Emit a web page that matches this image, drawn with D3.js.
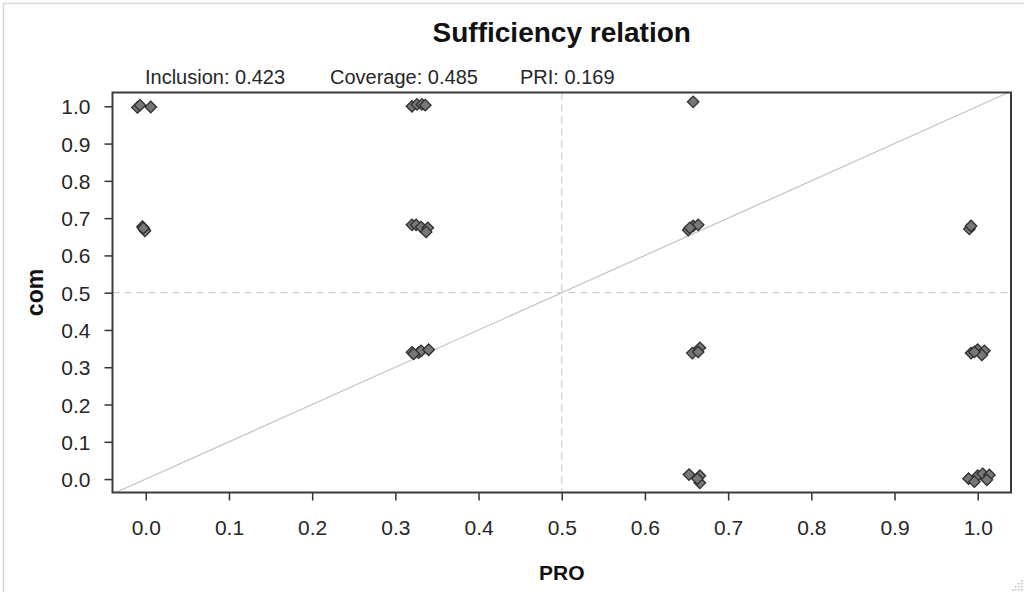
<!DOCTYPE html>
<html>
<head>
<meta charset="utf-8">
<script src="https://cdn.jsdelivr.net/npm/d3@7"></script>
<style>
	body { margin: 0; background: #fff; }
	text { font-family: 'Liberation Sans', Arial, sans-serif; }
	.tickLabel { font-size: 21px; fill: #262626; }
	.axisTitle { font-size: 21px; font-weight: bold; fill: #111; }
</style>
</head>
<body>
<script>
// jittered points
var pro = [-0.010, -0.007, 0.006,
	-0.004, -0.002, -0.001, -0.003,
	0.320, 0.326, 0.332, 0.336,
	0.320, 0.325, 0.331, 0.339, 0.337,
	0.320, 0.328, 0.331, 0.340, 0.322,
	0.658,
	0.652, 0.658, 0.664, 0.654,
	0.657, 0.666, 0.664,
	0.653, 0.666, 0.666, 0.663,
	0.990, 0.992,
	0.992, 1.000, 1.008, 1.005, 0.996,
	0.989, 1.000, 1.006, 1.014, 0.996, 1.011];
var com = [0.997, 1.003, 0.998,
	0.677, 0.671, 0.666, 0.673,
	1.000, 1.005, 1.005, 1.003,
	0.682, 0.682, 0.676, 0.674, 0.663,
	0.340, 0.339, 0.344, 0.347, 0.336,
	1.012,
	0.668, 0.679, 0.682, 0.674,
	0.338, 0.352, 0.341,
	0.012, 0.009, -0.010, 0.001,
	0.671, 0.679,
	0.338, 0.347, 0.344, 0.333, 0.341,
	0.001, 0.009, 0.014, 0.011, -0.007, -0.002];
var ticks = [0, 0.1, 0.2, 0.3, 0.4, 0.5, 0.6, 0.7, 0.8, 0.9, 1.0];
var titleText = 'Sufficiency relation';
var statsText = ['Inclusion: 0.423', 'Coverage: 0.485', 'PRI: 0.169'];
var statsX = [145, 330, 520];
var xName = 'PRO';
var yName = 'com';

var box = {left: 112.5, right: 1011, top: 92.5, bottom: 492.5};

var svg = d3.select('body').append('svg')
	.attr('width', 1024)
	.attr('height', 592);

var x = d3.scaleLinear().domain([-0.04, 1.04]).range([box.left, box.right]);
var y = d3.scaleLinear().domain([-0.036, 1.037]).range([box.bottom, box.top]);

addFrame = function(){
	// the window border round the picture
	svg.append('path')
		.attr('d', 'M3.5,592 V3.5 H1024')
		.attr('fill', 'none')
		.attr('stroke', '#d8d8d8')
		.attr('stroke-width', 1.5);
	// resize grip
	var grip = svg.append('g').attr('id', 'grip');
	for (var i = 0; i < 4; i++){
		for (var j = 0; j <= i; j++){
			grip.append('rect')
				.attr('x', 1021 - j * 3)
				.attr('y', 589 - (i - j) * 3)
				.attr('width', 1.5)
				.attr('height', 1.5)
				.attr('fill', '#bbb');
		}
	}
};

addTitles = function(){
	svg.append('text')
		.attr('x', (box.left + box.right) / 2)
		.attr('y', 42)
		.attr('text-anchor', 'middle')
		.style('font-size', '28px')
		.style('font-weight', 'bold')
		.attr('fill', '#111')
		.text(titleText);
	svg.append('g')
		.selectAll('text')
		.data(statsText)
		.enter()
		.append('text')
		.attr('x', function(d, i) { return statsX[i]; })
		.attr('y', 84)
		.style('font-size', '20px')
		.attr('fill', '#262626')
		.text(function(d) { return d; });
	svg.append('text')
		.attr('class', 'axisTitle')
		.attr('x', (box.left + box.right) / 2)
		.attr('y', 580)
		.attr('text-anchor', 'middle')
		.text(xName);
	svg.append('text')
		.attr('class', 'axisTitle')
		.style('font-size', '23px')
		.attr('transform', 'translate(43,' + ((box.top + box.bottom) / 2) + ') rotate(-90)')
		.attr('text-anchor', 'middle')
		.text(yName);
};

addGuides = function(){
	svg.append('clipPath')
		.attr('id', 'boxClip')
		.append('rect')
		.attr('x', box.left)
		.attr('y', box.top)
		.attr('width', box.right - box.left)
		.attr('height', box.bottom - box.top);
	var g = svg.append('g').attr('clip-path', 'url(#boxClip)');
	g.append('line')
		.attr('x1', x(-0.1)).attr('y1', y(-0.1))
		.attr('x2', x(1.1)).attr('y2', y(1.1))
		.attr('stroke', '#c8c8c8')
		.attr('stroke-width', 1.3);
	g.append('line')
		.attr('x1', x(0.5)).attr('y1', box.top)
		.attr('x2', x(0.5)).attr('y2', box.bottom)
		.attr('stroke', '#cfcfcf')
		.attr('stroke-width', 1.3)
		.attr('stroke-dasharray', '7,5');
	g.append('line')
		.attr('x1', box.left).attr('y1', y(0.5))
		.attr('x2', box.right).attr('y2', y(0.5))
		.attr('stroke', '#cfcfcf')
		.attr('stroke-width', 1.3)
		.attr('stroke-dasharray', '7,5');
};

addAxes = function(){
	var xAxis = svg.append('g')
		.attr('transform', 'translate(0,' + box.bottom + ')')
		.call(d3.axisBottom(x).tickValues(ticks).tickFormat(d3.format('.1f')).tickSize(8).tickPadding(20));
	var yAxis = svg.append('g')
		.attr('transform', 'translate(' + box.left + ',0)')
		.call(d3.axisLeft(y).tickValues(ticks).tickFormat(d3.format('.1f')).tickSize(8).tickPadding(14));
	[xAxis, yAxis].forEach(function(a){
		a.select('.domain').remove();
		a.selectAll('line').attr('stroke', '#333').attr('stroke-width', 1.5);
		a.selectAll('text')
			.attr('class', 'tickLabel')
			.attr('fill', null);
		a.attr('font-size', null).attr('font-family', null);
	});
	xAxis.selectAll('text').attr('dy', '0.71em');
	yAxis.selectAll('text').attr('dy', '0.36em');
	// plot box
	svg.append('rect')
		.attr('x', box.left)
		.attr('y', box.top)
		.attr('width', box.right - box.left)
		.attr('height', box.bottom - box.top)
		.attr('fill', 'none')
		.attr('stroke', '#3a3a3a')
		.attr('stroke-width', 2);
};

addPoints = function(){
	var diamond = d3.symbol().type(d3.symbolSquare).size(66);
	svg.append('g')
		.attr('id', 'thePoints')
		.selectAll('path')
		.data(d3.range(pro.length))
		.enter()
		.append('path')
		.attr('d', diamond)
		.attr('transform', function(i) { return 'translate(' + x(pro[i]) + ',' + y(com[i]) + ') rotate(45)'; })
		.attr('fill', '#777')
		.attr('stroke', '#2e2e2e')
		.attr('stroke-width', 1.3);
};

addFrame();
addGuides();
addAxes();
addPoints();
addTitles();
</script>
</body>
</html>
